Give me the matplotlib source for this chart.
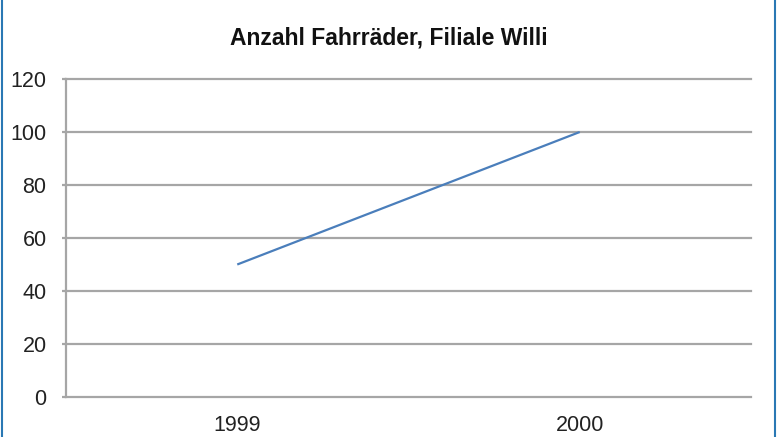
import matplotlib
matplotlib.use('Agg')
import matplotlib.pyplot as plt
from matplotlib.lines import Line2D

plt.rcParams['font.family'] = ['Liberation Sans', 'DejaVu Sans']

# Data
years = ['1999', '2000']
bikes = [50, 100]
y_ticks = [0, 20, 40, 60, 80, 100, 120]

grid_grey = '#a6a6a6'
line_blue = '#4a7ebb'

fig = plt.figure(figsize=(7.77, 4.37), dpi=100)
ax = fig.add_axes([66 / 777, 1 - 397 / 437, (751 - 66) / 777, (397 - 79) / 437])

x = list(range(len(years)))
ax.plot(x, bikes, color=line_blue, linewidth=1.6, solid_capstyle='butt')

ax.set_xlim(-0.5, len(years) - 0.5)
ax.set_ylim(0, 120)
ax.set_yticks(y_ticks)
ax.set_xticks(x)
ax.set_xticklabels(years)

ax.grid(axis='y', color=grid_grey, linewidth=1.6)
for gl in ax.yaxis.get_gridlines():
    gl.set_clip_on(False)
ax.set_axisbelow(True)
for side in ['top', 'right', 'bottom']:
    ax.spines[side].set_visible(False)
ax.spines['left'].set_color(grid_grey)
ax.spines['left'].set_linewidth(1.6)

ax.tick_params(axis='y', length=3, width=1.6, color=grid_grey, pad=11,
               labelsize=15.5, labelcolor='#222222')
ax.tick_params(axis='x', length=0, pad=13, labelsize=15.5, labelcolor='#222222')

fig.suptitle('Anzahl Fahrräder, Filiale Willi', y=1 - 38 / 437, va='center',
             fontsize=16.5, fontweight='bold', color='#111111')

# thin blue frame on the sides
fig.add_artist(Line2D([0.002, 0.002], [0, 1], color='#2a78b4', linewidth=1.5))
fig.add_artist(Line2D([0.998, 0.998], [0, 1], color='#2a78b4', linewidth=1.5))

fig.savefig('out.png', dpi=100)
